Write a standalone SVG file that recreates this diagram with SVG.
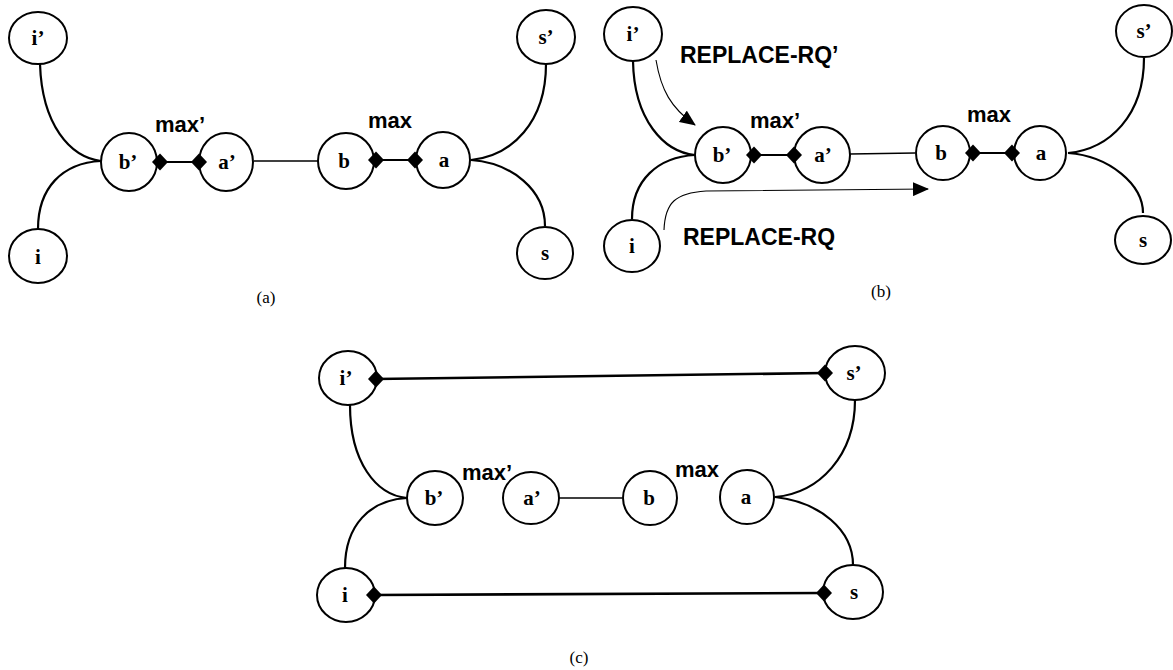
<svg xmlns="http://www.w3.org/2000/svg" width="1173" height="670" viewBox="0 0 1173 670">
  <style>
    .node ellipse { fill: #fff; stroke: #000; stroke-width: 2; }
    .node text { font-family: "Liberation Serif", "Times New Roman", serif; font-weight: bold; font-size: 21px; text-anchor: middle; fill: #000; }
    .edge { fill: none; stroke: #000; stroke-width: 2.2; }
    .thin { fill: none; stroke: #000; stroke-width: 1.6; }
    .flow { fill: none; stroke: #000; stroke-width: 1.1; }
    .dia { fill: #000; }
    .lbl { font-family: "Liberation Sans", Arial, sans-serif; font-weight: bold; font-size: 22px; fill: #000; }
    .cap { font-family: "Liberation Serif", "Times New Roman", serif; font-size: 17px; text-anchor: middle; fill: #000; }
  </style>
  <defs>
    <marker id="head" markerUnits="userSpaceOnUse" markerWidth="16" markerHeight="14" refX="15" refY="7" orient="auto">
      <path d="M0,0 L16,7 L0,14 Z" fill="#000"/>
    </marker>
    <polygon id="dm" points="0,-8.5 8,0 0,8.5 -8,0"/>
  </defs>
  <rect width="1173" height="670" fill="#fff"/>

  <!-- connectors -->
  <g id="connectors">
    <!-- (a) -->
    <path class="edge" d="M40,64 C42,125 70,157 101,161"/>
    <path class="edge" d="M38,229 C38,188 62,163 101,161"/>
    <path class="edge" d="M158,162 L199,162"/>
    <path class="thin" d="M254,161 L318,161"/>
    <path class="edge" d="M374,160 L415,160"/>
    <path class="edge" d="M471,160 C512,156 546,122 546,64"/>
    <path class="edge" d="M471,160 C512,163 545,190 545,226"/>
    <!-- (b) -->
    <path class="edge" d="M633,61 C634,120 664,152 695,155"/>
    <path class="edge" d="M632,219 C632,180 658,157 695,155"/>
    <path class="edge" d="M752,155 L794,155"/>
    <path class="thin" d="M850,154 L915,153"/>
    <path class="edge" d="M971,153 L1012,153"/>
    <path class="edge" d="M1068,153 C1110,149 1144,115 1144,58"/>
    <path class="edge" d="M1068,153 C1110,156 1143,185 1143,213"/>
    <path class="flow" d="M656,60 C661,90 671,108 695,125" marker-end="url(#head)"/>
    <path class="flow" d="M664,230 C665,202 676,193 706,191 L928,189" marker-end="url(#head)"/>
    <!-- (c) -->
    <path class="edge" d="M375,379 L825,373" style="stroke-width:2.6"/>
    <path class="edge" d="M373,595 L824,593" style="stroke-width:2.6"/>
    <path class="edge" d="M350,405 C350,462 376,495 407,498"/>
    <path class="edge" d="M345,568 C345,525 370,500 407,498"/>
    <path class="thin" d="M559,498 L622,498"/>
    <path class="edge" d="M775,497 C820,493 855,455 855,400"/>
    <path class="edge" d="M775,497 C820,502 853,530 853,565"/>
  </g>

  <!-- panel (a) nodes -->
  <g id="a-ip" class="node"><ellipse cx="38" cy="38" rx="29" ry="26"/><text x="38" y="45">i’</text></g>
  <g id="a-i" class="node"><ellipse cx="38" cy="256" rx="29" ry="27"/><text x="38" y="264">i</text></g>
  <g id="a-bp" class="node"><ellipse cx="129" cy="162" rx="28" ry="29"/><text x="128" y="169">b’</text></g>
  <g id="a-ap" class="node"><ellipse cx="226" cy="162" rx="27" ry="29"/><text x="227" y="169">a’</text></g>
  <g id="a-b" class="node"><ellipse cx="346" cy="161" rx="28" ry="28"/><text x="344" y="168">b</text></g>
  <g id="a-a" class="node"><ellipse cx="443" cy="160" rx="27" ry="28"/><text x="444" y="167">a</text></g>
  <g id="a-sp" class="node"><ellipse cx="546" cy="37" rx="29" ry="27"/><text x="546" y="44">s’</text></g>
  <g id="a-s" class="node"><ellipse cx="545" cy="253" rx="28" ry="26"/><text x="545" y="260">s</text></g>

  <!-- panel (b) nodes -->
  <g id="b-ip" class="node"><ellipse cx="633" cy="34" rx="29" ry="27"/><text x="633" y="41">i’</text></g>
  <g id="b-i" class="node"><ellipse cx="632" cy="246" rx="28" ry="26"/><text x="632" y="253">i</text></g>
  <g id="b-bp" class="node"><ellipse cx="723" cy="155" rx="28" ry="28"/><text x="722" y="162">b’</text></g>
  <g id="b-ap" class="node"><ellipse cx="822" cy="155" rx="28" ry="28"/><text x="823" y="162">a’</text></g>
  <g id="b-b" class="node"><ellipse cx="943" cy="153" rx="27" ry="27"/><text x="941" y="160">b</text></g>
  <g id="b-a" class="node"><ellipse cx="1040" cy="153" rx="26" ry="27"/><text x="1041" y="160">a</text></g>
  <g id="b-sp" class="node"><ellipse cx="1144" cy="31" rx="28" ry="26"/><text x="1144" y="38">s’</text></g>
  <g id="b-s" class="node"><ellipse cx="1143" cy="240" rx="28" ry="24"/><text x="1143" y="247">s</text></g>

  <!-- panel (c) nodes -->
  <g id="c-ip" class="node"><ellipse cx="348" cy="378" rx="29" ry="27"/><text x="346" y="385">i’</text></g>
  <g id="c-i" class="node"><ellipse cx="346" cy="595" rx="29" ry="27"/><text x="345" y="602">i</text></g>
  <g id="c-bp" class="node"><ellipse cx="435" cy="498" rx="28" ry="27"/><text x="434" y="505">b’</text></g>
  <g id="c-ap" class="node"><ellipse cx="531" cy="498" rx="28" ry="26"/><text x="532" y="505">a’</text></g>
  <g id="c-b" class="node"><ellipse cx="650" cy="498" rx="27" ry="27"/><text x="649" y="505">b</text></g>
  <g id="c-a" class="node"><ellipse cx="747" cy="497" rx="27" ry="27"/><text x="746" y="504">a</text></g>
  <g id="c-sp" class="node"><ellipse cx="855" cy="373" rx="30" ry="27"/><text x="854" y="380">s’</text></g>
  <g id="c-s" class="node"><ellipse cx="853" cy="592" rx="30" ry="27"/><text x="854" y="599">s</text></g>

  <!-- port diamonds, drawn over the node outlines -->
  <g id="ports">
    <use href="#dm" class="dia" x="160" y="162"/>
    <use href="#dm" class="dia" x="199" y="162"/>
    <use href="#dm" class="dia" x="376" y="160"/>
    <use href="#dm" class="dia" x="415" y="160"/>
    <use href="#dm" class="dia" x="754" y="155"/>
    <use href="#dm" class="dia" x="794" y="155"/>
    <use href="#dm" class="dia" x="973" y="153"/>
    <use href="#dm" class="dia" x="1012" y="153"/>
    <use href="#dm" class="dia" x="376" y="379"/>
    <use href="#dm" class="dia" x="825" y="373"/>
    <use href="#dm" class="dia" x="374" y="595"/>
    <use href="#dm" class="dia" x="824" y="593"/>
  </g>

  <!-- labels -->
  <g id="labels">
    <text class="lbl" x="155" y="132">max’</text>
    <text class="lbl" x="368" y="128">max</text>
    <text class="lbl" x="750" y="128">max’</text>
    <text class="lbl" x="967" y="122">max</text>
    <text class="lbl" x="680" y="63" style="font-size:23px">REPLACE-RQ’</text>
    <text class="lbl" x="683" y="245" style="font-size:23px">REPLACE-RQ</text>
    <text class="lbl" x="462" y="480">max’</text>
    <text class="lbl" x="675" y="477">max</text>
    <text class="cap" x="266" y="303">(a)</text>
    <text class="cap" x="881" y="297">(b)</text>
    <text class="cap" x="579" y="663">(c)</text>
  </g>
</svg>
